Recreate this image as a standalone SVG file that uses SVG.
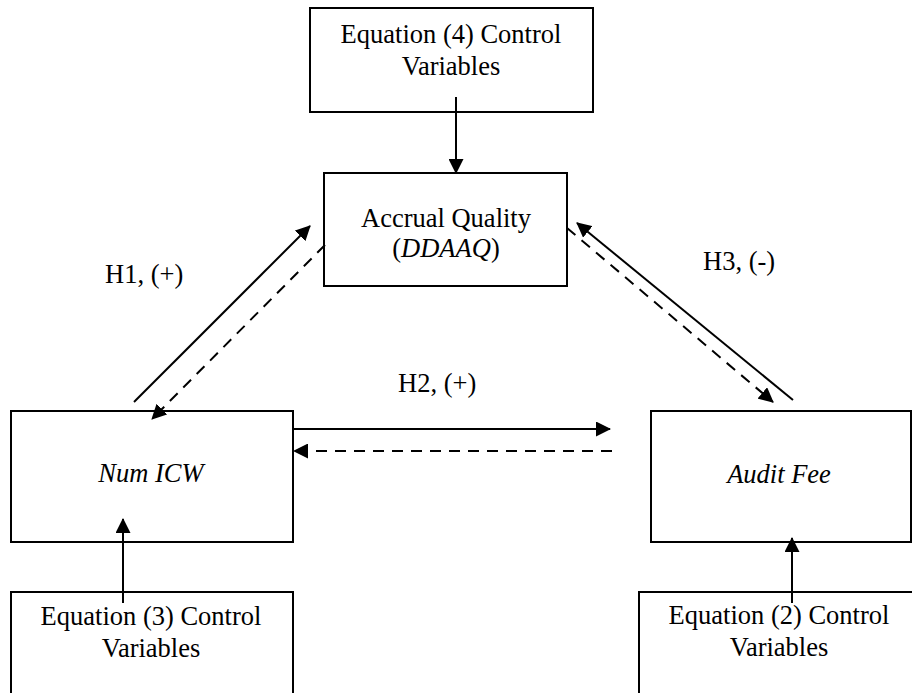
<svg xmlns="http://www.w3.org/2000/svg" width="912" height="693" viewBox="0 0 912 693">
<style>
.box{fill:#fff;stroke:#000;stroke-width:2}
.t{font-family:"Liberation Serif","Times New Roman",serif;font-size:26.5px;fill:#000}
.c{text-anchor:middle}
.i{font-style:italic}
.ln{stroke:#000;stroke-width:2;fill:none}
.d{stroke-dasharray:11 8}
</style>
<defs>
<marker id="ah" markerWidth="15" markerHeight="15" refX="14" refY="7.5" orient="auto" markerUnits="userSpaceOnUse">
<path d="M0,0 L15,7.5 L0,15 z" fill="#000"/>
</marker>
</defs>
<rect width="912" height="693" fill="#fff"/>
<g id="ctrl4">
<rect class="box" x="310" y="8" width="283" height="104"/>
<text class="t c" x="451" y="43">Equation (4) Control</text>
<text class="t c" x="451" y="75">Variables</text>
</g>
<g id="accrual">
<rect class="box" x="324" y="173" width="243" height="113"/>
<text class="t c" x="446" y="227">Accrual Quality</text>
<text class="t c" x="446" y="257">(<tspan class="i">DDAAQ</tspan>)</text>
</g>
<g id="numicw">
<rect class="box" x="11" y="411" width="282" height="131"/>
<text class="t c i" x="151" y="482">Num ICW</text>
</g>
<g id="auditfee">
<rect class="box" x="651" y="411" width="260" height="131"/>
<text class="t c i" x="779" y="483">Audit Fee</text>
</g>
<g id="ctrl3">
<rect class="box" x="11" y="592" width="282" height="120"/>
<text class="t c" x="151" y="625">Equation (3) Control</text>
<text class="t c" x="151" y="657">Variables</text>
</g>
<g id="ctrl2">
<rect class="box" x="639" y="592" width="300" height="120"/>
<text class="t c" x="779" y="624">Equation (2) Control</text>
<text class="t c" x="779" y="656">Variables</text>
</g>
<g id="connectors">
<line class="ln" x1="456" y1="97" x2="456" y2="173" marker-end="url(#ah)"/>
<line class="ln" x1="123" y1="603" x2="123" y2="519" marker-end="url(#ah)"/>
<line class="ln" x1="792" y1="603" x2="792" y2="538" marker-end="url(#ah)"/>
<line class="ln" x1="292" y1="429" x2="610" y2="429" marker-end="url(#ah)"/>
<line class="ln d" x1="612" y1="451" x2="294" y2="451" marker-end="url(#ah)"/>
<line class="ln" x1="134" y1="402" x2="310" y2="226" marker-end="url(#ah)"/>
<line class="ln d" x1="325" y1="245" x2="152" y2="419" marker-end="url(#ah)"/>
<line class="ln" x1="793" y1="400" x2="577" y2="223" marker-end="url(#ah)"/>
<line class="ln d" x1="567" y1="228" x2="773" y2="402" marker-end="url(#ah)"/>
</g>
<g id="labels">
<text class="t" x="105" y="283">H1, (+)</text>
<text class="t" x="398" y="392">H2, (+)</text>
<text class="t" x="703" y="270">H3, (-)</text>
</g>
</svg>
